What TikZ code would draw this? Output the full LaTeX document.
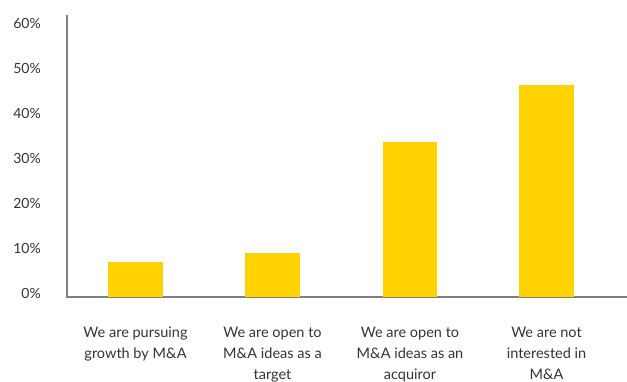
\documentclass[tikz,border=0pt]{standalone}
\usepackage{fontspec}
\setmainfont{Lato}
\definecolor{barc}{HTML}{FFD200}
\definecolor{txt}{HTML}{333333}
\definecolor{axc}{HTML}{7F7F7F}
\begin{document}
\begin{tikzpicture}[x=1pt,y=1pt,
  bar/.style={fill=barc,draw=none},
  ylab/.style={anchor=east,text=txt,font=\fontsize{14}{14}\selectfont,inner sep=0pt},
  clab/.style={anchor=north,text=txt,align=center,font=\fontsize{14.5}{21}\selectfont,inner sep=0pt},
  axis/.style={draw=axc,line width=1.1pt}]
\useasboundingbox (0,0) rectangle (627,381);
% axes
\coordinate (o) at (67,84);
\coordinate (top) at (67,366);
\coordinate (xr) at (627,84);
\draw[axis] (top) -- (o) -- (xr);
% y labels
\foreach \v/\y in {0/88,10/133,20/178,30/223,40/268,50/313,60/358}{
  \node[ylab] (y\v) at (41,\y) {\v\%};
}
% bars
\fill[bar] (108,84) rectangle (163,119) node (b1) {};
\fill[bar] (245,84) rectangle (300,128) node (b2) {};
\fill[bar] (383,84) rectangle (437,239) node (b3) {};
\fill[bar] (519,84) rectangle (574,296) node (b4) {};
% category labels
\node[clab] (c1) at (135.5,54) {We are pursuing\\growth by M\&A};
\node[clab] (c2) at (272.5,54) {We are open to\\M\&A ideas as a\\target};
\node[clab] (c3) at (410,54) {We are open to\\M\&A ideas as an\\acquiror};
\node[clab] (c4) at (546.5,54) {We are not\\interested in\\M\&A};
\end{tikzpicture}
\end{document}
